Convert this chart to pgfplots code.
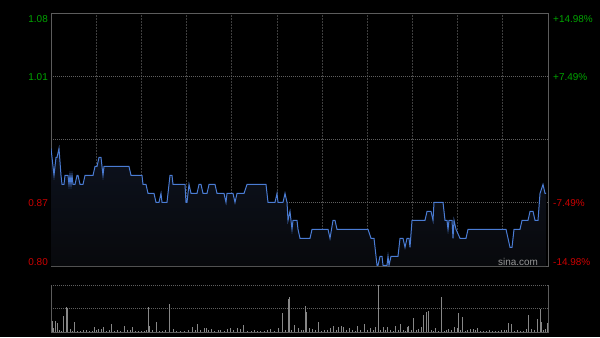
\documentclass[border=0pt]{standalone}
\usepackage{pgfplots}
\pgfplotsset{compat=1.18}
\usepackage{pgfplotstable}
\usepackage{fontspec}
\setmainfont{Liberation Sans}
\definecolor{upg}{RGB}{0,165,0}
\definecolor{dnr}{RGB}{205,0,0}
\definecolor{gridc}{RGB}{62,62,62}
\definecolor{hgridc}{RGB}{95,95,95}
\definecolor{framec}{RGB}{92,92,92}
\definecolor{linec}{RGB}{74,124,212}
\definecolor{filltop}{RGB}{13,18,30}
\definecolor{fillbot}{RGB}{8,9,12}
\definecolor{volc}{RGB}{135,135,135}
\definecolor{wm}{RGB}{150,150,150}

\pgfplotstableread{
x p
51 0.93
53 0.91
54 0.90
56 0.92
57 0.92
59 0.93
61 0.90
62 0.89
64 0.89
65 0.90
68 0.90
69 0.89
70 0.90
71 0.89
72 0.90
73 0.89
75 0.89
77 0.90
78 0.90
80 0.89
83 0.89
85 0.90
93 0.90
95 0.91
97 0.91
99 0.92
101 0.92
102 0.91
103 0.90
104 0.91
129 0.91
131 0.90
142 0.90
143 0.89
146 0.89
148 0.88
154 0.88
156 0.87
159 0.87
161 0.88
162 0.87
167 0.87
170 0.90
172 0.90
173 0.89
185 0.89
186 0.87
187 0.87
189 0.89
191 0.88
197 0.88
199 0.89
201 0.89
203 0.88
207 0.88
209 0.89
215 0.89
217 0.88
224 0.88
226 0.87
227 0.88
233 0.88
235 0.87
237 0.88
244 0.88
247 0.89
266 0.89
268 0.87
275 0.87
277 0.88
278 0.87
283 0.87
285 0.88
287 0.87
288 0.85
290 0.86
292 0.84
293 0.85
297 0.85
298 0.84
300 0.83
302 0.83
310 0.83
312 0.84
328 0.84
330 0.83
333 0.85
335 0.85
337 0.84
368 0.84
371 0.83
374 0.83
377 0.80
378 0.80
380 0.81
382 0.81
383 0.80
387 0.80
388 0.81
389 0.80
391 0.81
398 0.81
399 0.82
400 0.83
403 0.83
405 0.82
407 0.83
409 0.83
410 0.82
412 0.85
425 0.85
427 0.86
431 0.86
433 0.85
434 0.87
443 0.87
445 0.85
447 0.85
448 0.84
449 0.85
452 0.85
453 0.83
454 0.85
456 0.84
460 0.83
466 0.83
468 0.84
506 0.84
508 0.83
510 0.82
512 0.82
514 0.84
520 0.84
522 0.85
528 0.85
530 0.86
533 0.86
535 0.85
538 0.85
540 0.88
543 0.89
545 0.88
546 0.88
}\pricetable

\pgfplotstableread{
x v
52 11
53 4
55 11
57 9
59 2
61 1
63 16
66 25
67 24
70 3
72 1
74 10
77 1
80 1
83 2
86 2
89 1
92 1
94 5
96 2
98 3
101 3
103 5
106 1
109 2
111 8
114 1
117 2
120 1
124 6
127 2
130 2
132 5
135 1
138 1
141 1
144 1
146 2
148 25
149 6
152 2
156 10
159 1
162 1
165 2
169 28
173 3
176 1
180 1
184 1
188 2
192 5
195 2
197 8
200 2
204 4
206 4
208 2
211 3
214 1
218 2
220 2
224 1
227 3
230 4
233 2
237 4
240 3
243 7
247 1
251 1
254 2
257 1
260 1
264 1
267 2
270 3
274 1
278 4
282 19
285 2
288 33
289 35
291 2
294 7
298 4
301 2
303 2
305 26
306 20
309 4
312 3
315 2
318 10
321 1
324 2
327 2
330 4
333 6
336 2
338 5
341 6
343 5
346 2
349 4
352 2
355 1
357 6
360 2
364 8
367 2
370 4
373 2
375 5
378 47
380 2
383 5
385 2
387 5
390 2
393 1
395 6
398 2
400 8
403 2
405 1
407 5
408 6
411 2
413 14
416 2
418 3
421 5
423 17
426 20
428 21
431 2
433 1
435 4
438 1
441 35
444 1
446 2
448 3
451 2
454 5
457 4
458 19
460 2
462 15
465 1
467 2
470 3
473 3
475 2
477 4
480 1
483 1
486 1
489 2
492 1
495 1
498 1
501 2
504 2
506 2
508 9
511 8
514 1
517 2
520 1
523 1
526 3
528 17
531 3
534 2
537 13
540 23
541 10
543 2
545 3
547 9
}\voltable

\begin{document}
\begin{tikzpicture}[x=1bp,y=1bp]
\fill[black] (0,0) rectangle (600,337);
% main price axis
\begin{axis}[
  at={(51bp,71bp)}, anchor=south west, scale only axis,
  width=497bp, height=253bp,
  xmin=51, xmax=548, ymin=0.7992, ymax=1.0808,
  axis line style={framec, line width=0.8bp},
  xtick={96.18,141.36,186.55,231.73,276.91,322.09,367.27,412.45,457.64,502.82},
  ytick={0.8696,1.0104},
  extra y ticks={0.94},
  extra y tick style={grid=major, major grid style={hgridc, line width=0.6bp, dash pattern=on 3bp off 1bp on 1bp off 1bp}},
  xticklabels={}, yticklabels={}, extra y tick labels={},
  major tick length=0pt,
  grid=major,
  x grid style={gridc, line width=0.8bp, dash pattern=on 2bp off 1bp},
  y grid style={hgridc, line width=0.6bp, dash pattern=on 1bp off 1bp},
  axis on top=false,
]
\addplot[draw=none, top color=filltop, bottom color=fillbot, shading=axis] table[x=x, y=p] {\pricetable} \closedcycle;
\addplot[linec, line width=1bp, no marks] table[x=x, y=p] {\pricetable};
\end{axis}
% volume axis
\begin{axis}[
  at={(51bp,5bp)}, anchor=south west, scale only axis,
  width=497bp, height=47bp,
  xmin=51, xmax=548, ymin=0, ymax=47,
  axis line style={draw=none},
  xtick=\empty, ytick={23.5}, yticklabels={},
  major tick length=0pt,
  ymajorgrids,
  y grid style={hgridc, line width=0.6bp, dash pattern=on 1bp off 1bp},
  clip=false,
]
\addplot[ycomb, volc, line width=0.7bp, no marks] table[x=x, y=v] {\voltable};
\draw[hgridc, line width=0.6bp, dash pattern=on 1bp off 1bp] (rel axis cs:0,1) -- (rel axis cs:1,1);
\draw[framec, line width=0.8bp] (rel axis cs:0,1) -- (rel axis cs:0,0) -- (rel axis cs:1,0) -- (rel axis cs:1,1);
\end{axis}
% price labels
\begin{scope}[every node/.style={inner sep=0pt, font=\fontsize{10}{12}\selectfont}]
\node[anchor=east, text=upg] at (48,318) {1.08};
\node[anchor=east, text=upg] at (48,260) {1.01};
\node[anchor=east, text=dnr] at (48,134) {0.87};
\node[anchor=east, text=dnr] at (48,75) {0.80};
\node[anchor=west, text=upg] at (553,318) {+14.98\%};
\node[anchor=west, text=upg] at (553,260) {+7.49\%};
\node[anchor=west, text=dnr] at (553,134) {-7.49\%};
\node[anchor=west, text=dnr] at (553,75) {-14.98\%};
\node[anchor=center, text=wm] at (518,75) {sina.com};
\end{scope}
\end{tikzpicture}
\end{document}
